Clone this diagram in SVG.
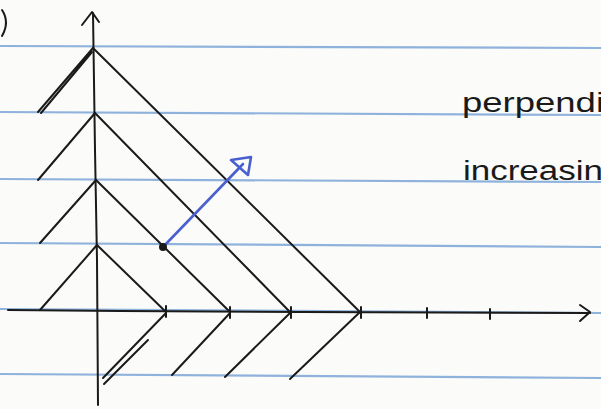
<svg xmlns="http://www.w3.org/2000/svg" width="601" height="409" viewBox="0 0 601 409">
<style>
.rule{stroke:#8fb2dc;stroke-width:2.2;fill:none}
.ink{stroke:#1a1a1a;stroke-width:2;fill:none;stroke-linecap:round;stroke-linejoin:round}
.blue{stroke:#4a5fd0;stroke-width:2.6;fill:none;stroke-linecap:round;stroke-linejoin:round}
.hand{font-family:"Liberation Sans",Arial,sans-serif;font-size:27px;fill:#1a1a1a}
</style>
<rect width="601" height="409" fill="#fbfbf9"/>
<g id="paper">
<line class="rule" x1="0" y1="46" x2="601" y2="48"/>
<line class="rule" x1="0" y1="112" x2="601" y2="115"/>
<line class="rule" x1="0" y1="179" x2="601" y2="182"/>
<line class="rule" x1="0" y1="243" x2="601" y2="247"/>
<line class="rule" x1="0" y1="309" x2="601" y2="313"/>
<line class="rule" x1="0" y1="374" x2="601" y2="378"/>
</g>
<g id="paren"><path class="ink" d="M2,10 Q10,22 2,36"/></g>
<g id="axes">
<path class="ink" d="M93,13 L95,150 L97,260 L98,405"/>
<path class="ink" d="M82,25 L92,12 L99,22"/>
<path class="ink" d="M8,310 L120,311 L300,312 L590,313"/>
<path class="ink" d="M580,305 L590,312 L580,321"/>
<g id="ticks">
<line class="ink" x1="166" y1="306" x2="166" y2="317"/>
<line class="ink" x1="230" y1="307" x2="230" y2="318"/>
<line class="ink" x1="291" y1="307" x2="291" y2="318"/>
<line class="ink" x1="361" y1="307" x2="361" y2="318"/>
<line class="ink" x1="427" y1="308" x2="427" y2="318"/>
<line class="ink" x1="490" y1="309" x2="490" y2="319"/>
</g>
</g>
<g id="contours">
<line class="ink" x1="93" y1="48" x2="360" y2="312"/>
<line class="ink" x1="95" y1="113" x2="290" y2="312"/>
<line class="ink" x1="96" y1="180" x2="230" y2="312"/>
<line class="ink" x1="97" y1="245" x2="166" y2="312"/>
<path class="ink" d="M38,112 L93,48 M41,113 L92,52"/>
<line class="ink" x1="38" y1="180" x2="95" y2="113"/>
<line class="ink" x1="40" y1="243" x2="96" y2="180"/>
<line class="ink" x1="40" y1="310" x2="97" y2="245"/>
<path class="ink" d="M103,378 L166,313 M104,384 L148,340"/>
<line class="ink" x1="172" y1="375" x2="230" y2="313"/>
<line class="ink" x1="225" y1="377" x2="290" y2="313"/>
<line class="ink" x1="290" y1="379" x2="360" y2="312"/>
</g>
<g id="gradient">
<line class="blue" x1="163" y1="247" x2="243" y2="164"/>
<path class="blue" d="M231,160 L251,157 L248,175 Z"/>
<circle cx="163" cy="247" r="4" fill="#1a1a1a"/>
</g>
<g id="labels">
<text class="hand" x="462" y="112" textLength="142" lengthAdjust="spacingAndGlyphs">perpendi</text>
<text class="hand" x="463" y="180" textLength="140" lengthAdjust="spacingAndGlyphs">increasin</text>
</g>
</svg>
